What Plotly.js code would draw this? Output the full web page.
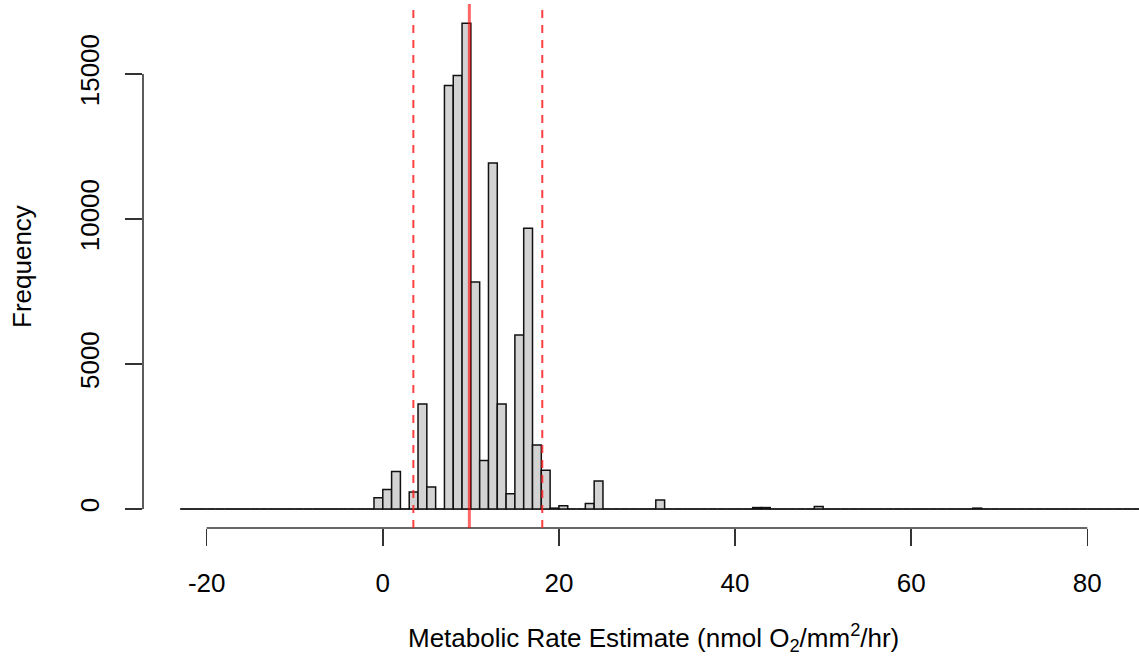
<!DOCTYPE html>
<html>
<head>
<meta charset="utf-8">
<script src="https://cdn.plot.ly/plotly-3.0.1.min.js"></script>
<style>html,body{margin:0;padding:0;background:#fff;}#chart{width:1139px;height:662px;}</style>
</head>
<body>
<div id="chart"></div>
<script>
// Histogram bins (left edges, width 1) and counts
var binStarts = [-23,-22,-21,-20,-19,-18,-17,-16,-15,-14,-13,-12,-11,-10,-9,-8,-7,-6,-5,-4,-3,-2,-1,
  0,1,2,3,4,5,6,7,8,9,10,11,12,13,14,15,16,17,18,19,20,21,22,23,24,25,26,27,28,29,30,
  31,32,33,34,35,36,37,38,39,40,41,42,43,44,45,46,47,48,49,50,51,52,53,54,55,56,57,58,59,60,
  61,62,63,64,65,66,67,68,69,70,71,72,73,74,75,76,77,78,79,80,81,82,83,84,85,86];
var counts = [0,0,0,0,0,0,0,0,0,0,0,0,0,0,0,0,0,0,0,0,0,0,390,
  670,1290,0,585,3620,760,0,14600,14950,16750,7830,1670,11930,3620,530,6000,9680,2210,1340,30,110,0,0,190,970,0,0,0,0,0,0,
  310,0,0,0,0,0,0,0,0,0,0,50,50,0,0,0,0,0,90,0,0,0,0,0,0,0,0,0,0,
  0,0,0,0,0,0,0,30,0,0,0,0,0,0,0,0,0,0,0,0,0,0,0,0,0,0];
var binWidth = 1;
// Reference lines
var meanLine = 9.83;
var lowerLine = 3.47;
var upperLine = 18.11;
// Axis ticks
var xTicks = [-20, 0, 20, 40, 60, 80];
var yTicks = [0, 5000, 10000, 15000];

var centers = binStarts.map(function(b){ return b + binWidth/2; });

var font = {family: 'Liberation Sans, Arial, Helvetica, sans-serif', size: 26, color: '#000'};

var trace = {
  type: 'bar',
  x: centers,
  y: counts,
  width: binWidth,
  marker: {color: '#d3d3d3', line: {color: '#111', width: 1.5}},
  hoverinfo: 'x+y'
};

var shapes = [
  // baseline of zero-count bins
  {type: 'line', xref: 'x', yref: 'y', x0: binStarts[0], x1: binStarts[binStarts.length-1] + binWidth, y0: 0, y1: 0,
   line: {color: '#555', width: 1.6}, layer: 'below'},
  // R style axis lines
  {type: 'line', xref: 'paper', yref: 'y', x0: 0, x1: 0, y0: yTicks[0], y1: yTicks[yTicks.length-1],
   line: {color: '#333', width: 1.6}},
  {type: 'line', xref: 'x', yref: 'paper', x0: xTicks[0], x1: xTicks[xTicks.length-1], y0: 0, y1: 0,
   line: {color: '#333', width: 1.6}},
  // vertical reference lines
  {type: 'line', xref: 'x', yref: 'paper', x0: lowerLine, x1: lowerLine, y0: 0, y1: 1,
   line: {color: 'rgba(255,30,30,0.85)', width: 2, dash: '8px,7px'}},
  {type: 'line', xref: 'x', yref: 'paper', x0: upperLine, x1: upperLine, y0: 0, y1: 1,
   line: {color: 'rgba(255,30,30,0.85)', width: 2, dash: '8px,7px'}},
  {type: 'line', xref: 'x', yref: 'paper', x0: meanLine, x1: meanLine, y0: 0, y1: 1,
   line: {color: 'rgba(255,0,0,0.6)', width: 3}}
];

var layout = {
  width: 1139, height: 662,
  margin: {l: 143, r: 0, t: 4, b: 134, pad: 0},
  paper_bgcolor: '#fff', plot_bgcolor: '#fff',
  showlegend: false,
  bargap: 0,
  font: font,
  xaxis: {
    range: [-27.23, 85.87],
    tickmode: 'array', tickvals: xTicks, ticktext: xTicks.map(String),
    ticks: 'outside', ticklen: 17, tickwidth: 1.6, tickcolor: '#333',
    showline: false, showgrid: false, zeroline: false,
    tickfont: font, ticklabelstandoff: 15
  },
  yaxis: {
    range: [-655, 17414],
    tickmode: 'array', tickvals: yTicks, ticktext: yTicks.map(String),
    ticks: 'outside', ticklen: 17, tickwidth: 1.6, tickcolor: '#333',
    showline: false, showgrid: false, zeroline: false,
    tickangle: -90, tickfont: font, ticklabelstandoff: 16
  },
  shapes: shapes,
  annotations: [
    {text: 'Metabolic Rate Estimate (nmol O<sub>2</sub>/mm<sup>2</sup>/hr)', xref: 'x', yref: 'paper',
     x: 30.7, y: -0.21, xanchor: 'center', yanchor: 'middle', showarrow: false, font: font},
    {text: 'Frequency', xref: 'paper', yref: 'paper', x: -0.1215, y: 0.5, textangle: -90,
     xanchor: 'center', yanchor: 'middle', showarrow: false, font: font}
  ]
};

Plotly.newPlot('chart', [trace], layout, {displayModeBar: false, staticPlot: true});
</script>
</body>
</html>
